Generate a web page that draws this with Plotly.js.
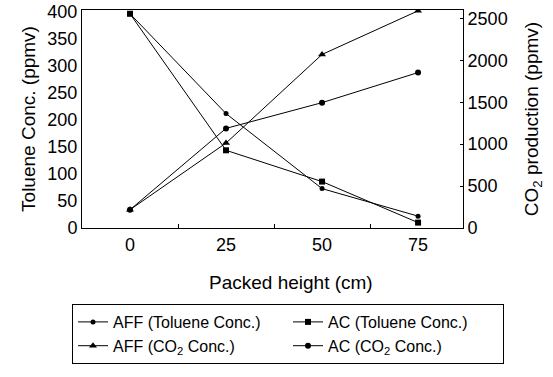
<!DOCTYPE html>
<html>
<head>
<meta charset="utf-8">
<script src="https://cdn.plot.ly/plotly-3.0.1.min.js"></script>
<style>html,body{margin:0;padding:0;background:#fff;}#chart{width:553px;height:377px;}</style>
</head>
<body>
<div id="chart"></div>
<script>
var heights = [0, 25, 50, 75];
var affToluene = [397, 212, 73, 22];
var acToluene = [397, 144, 86, 10];
var affCO2 = [218, 1013, 2070, 2590];
var acCO2 = [218, 1188, 1495, 1854];
var xTickVals = [0, 25, 50, 75];
var xTickText = ['0', '25', '50', '75'];
var seriesNames = ['AFF (Toluene Conc.)', 'AC (Toluene Conc.)', 'AFF (CO<sub>2</sub> Conc.)', 'AC (CO<sub>2</sub> Conc.)'];

var FONT = 'Liberation Sans, Arial, Helvetica, sans-serif';
var lineStyle = {color: '#000', width: 1};

var traces = [
  {x: heights, y: affToluene, name: seriesNames[0], mode: 'lines+markers', yaxis: 'y',
   line: lineStyle, marker: {symbol: 'circle', size: 5, color: '#000'}},
  {x: heights, y: acToluene, name: seriesNames[1], mode: 'lines+markers', yaxis: 'y',
   line: lineStyle, marker: {symbol: 'square', size: 6, color: '#000'}},
  {x: heights, y: affCO2, name: seriesNames[2], mode: 'lines+markers', yaxis: 'y2',
   line: lineStyle, marker: {symbol: 'triangle-up', size: 7, color: '#000'}},
  {x: heights, y: acCO2, name: seriesNames[3], mode: 'lines+markers', yaxis: 'y2',
   line: lineStyle, marker: {symbol: 'circle', size: 6, color: '#000'}}
];

var layout = {
  width: 553, height: 377,
  margin: {l: 82, r: 90, t: 10, b: 149, autoexpand: false},
  paper_bgcolor: '#fff', plot_bgcolor: '#fff',
  font: {family: FONT, color: '#000', size: 18},
  showlegend: true,
  xaxis: {
    range: [-12.5, 86.7], tickvals: xTickVals, ticktext: xTickText,
    ticks: '', showgrid: false, zeroline: false,
    showline: true, linecolor: '#000', linewidth: 1, mirror: true,
    tickfont: {size: 18},
    minor: {tickvals: [12.5, 37.5, 62.5], ticks: 'inside', ticklen: 4, tickcolor: '#000', showgrid: false}
  },
  yaxis: {
    range: [0, 404], dtick: 50, tick0: 0, ticks: '', showgrid: false, zeroline: false,
    showline: true, linecolor: '#000', linewidth: 1,
    tickfont: {size: 18},
    title: {text: 'Toluene Conc. (ppmv)', font: {size: 19}, standoff: 6}
  },
  yaxis2: {
    range: [0, 2600], dtick: 500, tick0: 0, overlaying: 'y', side: 'right',
    ticks: 'inside', ticklen: 3, tickcolor: '#000', showgrid: false, zeroline: false,
    showline: true, linecolor: '#000', linewidth: 1,
    tickfont: {size: 18},
    title: {text: 'CO<sub>2</sub> production (ppmv)', font: {size: 19}, standoff: 18}
  },
  legend: {
    orientation: 'h', xref: 'paper', yref: 'paper',
    x: (72 - 82) / 381, y: -(304 - 228) / 218, xanchor: 'left', yanchor: 'top',
    bordercolor: '#000', borderwidth: 1, bgcolor: '#fff',
    font: {size: 16}, itemwidth: 30, entrywidth: 170, entrywidthmode: 'pixels',
    tracegroupgap: 0
  },
  annotations: [{
    text: 'Packed height (cm)', xref: 'paper', yref: 'paper',
    x: (291 - 82) / 381, y: -(282 - 228) / 218, xanchor: 'center', yanchor: 'middle',
    showarrow: false, font: {size: 19}
  }]
};

Plotly.newPlot('chart', traces, layout, {displayModeBar: false, staticPlot: true});
</script>
</body>
</html>
